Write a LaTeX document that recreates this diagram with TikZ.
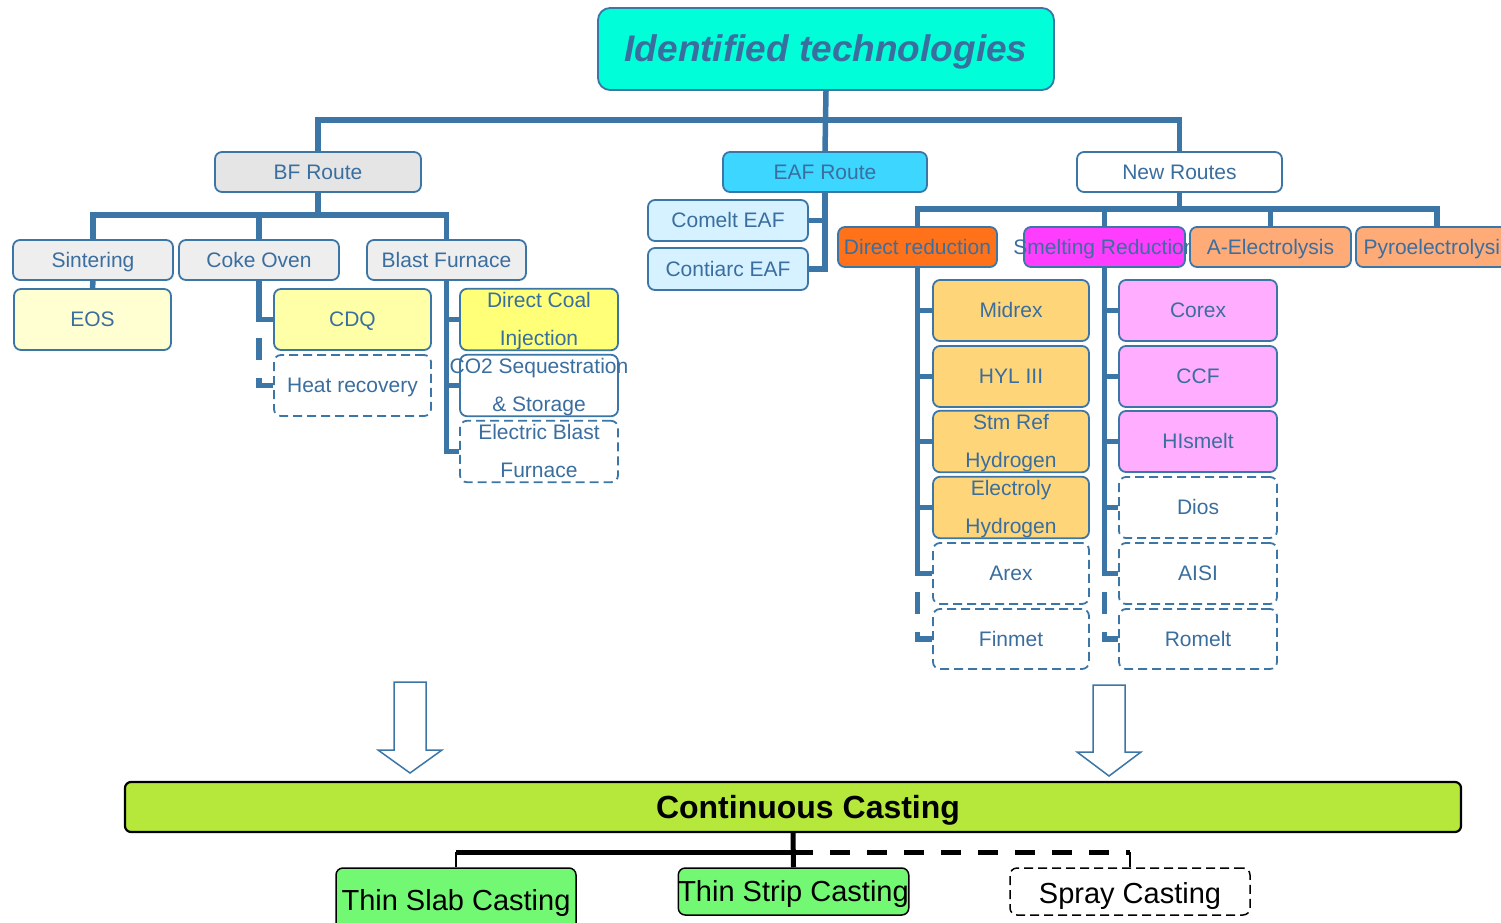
\documentclass[tikz,border=0pt]{standalone}
\usepackage{fontspec}
\setmainfont{Liberation Sans}
\usetikzlibrary{backgrounds}
\definecolor{lc}{HTML}{3B76A7}
\definecolor{tc}{HTML}{3A6E9F}
\definecolor{titlef}{HTML}{00FFD9}
\definecolor{bff}{HTML}{E5E5E5}
\definecolor{greyf}{HTML}{EEEEEE}
\definecolor{eaff}{HTML}{3DD6FF}
\definecolor{lbluef}{HTML}{D6F1FF}
\definecolor{eosf}{HTML}{FFFFD2}
\definecolor{cdqf}{HTML}{FFFFA8}
\definecolor{dcif}{HTML}{FFFF78}
\definecolor{drf}{HTML}{FF7219}
\definecolor{srf}{HTML}{FF3DFF}
\definecolor{aef}{HTML}{FFAB78}
\definecolor{midf}{HTML}{FFD57A}
\definecolor{corf}{HTML}{FFAEFF}
\definecolor{ccf}{HTML}{B5E83A}
\definecolor{grf}{HTML}{72F872}
\newcommand\bx[7]{\node[box,#6,minimum width={(#4-#2)*1pt},minimum height={(#5-#3)*1pt}] (#1) at ({(#2+#4)/2},{(#3+#5)/2}) {#7};}
\newcommand\mystrut{\rule[-0.212em]{0pt}{1.117em}}
\newcommand\zw[1]{\makebox[0pt]{\mystrut#1}}
\tikzset{
  box/.style={draw=lc, line width=1.8pt, rounded corners=7pt, text=tc, inner sep=0pt, align=center, font=\fontsize{21}{38}\selectfont, execute at begin node=\mystrut},
  dbox/.style={dash pattern=on 9pt off 5pt, fill=white},
  conn/.style={draw=lc, line width=5.5pt},
  dconn/.style={conn, dash pattern=on 22pt off 18pt, dash phase=22pt},
  cbox/.style={draw=black, line width=1.5pt, text=black, font=\fontsize{29}{31}\selectfont},
  cthin/.style={draw=black, line width=2.5pt},
  cbus/.style={draw=black, line width=5pt},
  harrow/.style={draw=lc, fill=white, line width=1.5pt, line join=miter}
}
\begin{document}
\begin{tikzpicture}[x=1pt,y=-1pt]
\useasboundingbox (0,0) rectangle (1501,923);
\clip (0,0) rectangle (1501,923);
% top
\bx{title}{598}{8}{1054}{90}{fill=titlef, rounded corners=12pt, font=\fontsize{37}{40}\selectfont\bfseries\itshape}{Identified technologies}
\bx{bfr}{215}{152}{421}{192}{fill=bff}{BF Route}
\bx{eaf}{723}{152}{927}{192}{fill=eaff}{EAF Route}
\bx{nr}{1077}{152}{1282}{192}{fill=white}{New Routes}
% BF route
\bx{sint}{13}{240}{173}{280}{fill=greyf}{Sintering}
\bx{coke}{179}{240}{339}{280}{fill=greyf}{Coke Oven}
\bx{bfur}{367}{240}{526}{280}{fill=greyf}{Blast Furnace}
\bx{eos}{14}{289}{171}{350}{fill=eosf}{EOS}
\bx{cdq}{274}{289}{431}{350}{fill=cdqf}{CDQ}
\bx{heat}{274}{355}{431}{416}{dbox}{Heat recovery}
\bx{dci}{460}{289}{618}{350}{fill=dcif}{\zw{Direct Coal}\\\zw{Injection}}
\bx{co2}{460}{355}{618}{416}{fill=white}{\zw{CO2 Sequestration}\\\zw{\& Storage}}
\bx{ebf}{460}{421}{618}{482}{dbox}{\zw{Electric Blast}\\\zw{Furnace}}
% EAF route
\bx{comelt}{648}{200}{808}{241}{fill=lbluef}{Comelt EAF}
\bx{contiarc}{648}{248}{808}{290}{fill=lbluef}{Contiarc EAF}
% New routes
\bx{dr}{838}{227}{997}{267}{fill=drf}{\zw{Direct reduction}}
\bx{sr}{1024}{227}{1185}{267}{fill=srf}{\zw{Smelting Reduction}}
\bx{ae}{1190}{227}{1351}{267}{fill=aef}{A-Electrolysis}
\bx{pyro}{1356}{227}{1518}{267}{fill=aef}{\zw{Pyroelectrolysis}}
\bx{midrex}{933}{280}{1089}{341}{fill=midf}{Midrex}
\bx{hyl}{933}{346}{1089}{407}{fill=midf}{HYL III}
\bx{stm}{933}{411}{1089}{472}{fill=midf}{\zw{Stm Ref}\\\zw{Hydrogen}}
\bx{elh}{933}{477}{1089}{538}{fill=midf}{\zw{Electroly}\\\zw{Hydrogen}}
\bx{arex}{933}{543}{1089}{604}{dbox}{Arex}
\bx{finmet}{933}{609}{1089}{669}{dbox}{Finmet}
\bx{corex}{1119}{280}{1277}{341}{fill=corf}{Corex}
\bx{ccf}{1119}{346}{1277}{407}{fill=corf}{CCF}
\bx{hismelt}{1119}{411}{1277}{472}{fill=corf}{HIsmelt}
\bx{dios}{1119}{477}{1277}{538}{dbox}{Dios}
\bx{aisi}{1119}{543}{1277}{604}{dbox}{AISI}
\bx{romelt}{1119}{609}{1277}{669}{dbox}{Romelt}
% casting
\bx{cc}{125}{782}{1461}{832}{draw=black, fill=ccf, line width=2.2pt, rounded corners=6pt, text=black, font=\fontsize{32}{34}\selectfont\bfseries}{\hspace*{30pt}Continuous Casting}
\bx{slab}{336}{868}{576}{932}{cbox, fill=grf}{Thin Slab Casting}
\bx{strip}{679}{868}{908}{915}{cbox, fill=grf}{Thin Strip Casting}
\bx{spray}{1010}{868}{1250}{915}{cbox, dbox}{\raisebox{-3pt}{Spray Casting}}
% hollow arrows
\draw[harrow] (394,682) -- (426,682) -- (426,750) -- (442,750) -- (410,773) -- (378,750) -- (394,750) -- cycle;
\draw[harrow] (1093,685) -- (1125,685) -- (1125,752) -- (1141,752) -- (1109,776) -- (1077,752) -- (1093,752) -- cycle;
\begin{scope}[on background layer]
% top bus
\draw[conn] (title.south) -- (eaf.north);
\draw[conn] (bfr.north) -- ++(0,-31) -| (nr.north);
% BF
\draw[conn] (bfr.south) -- ++(0,24);
\draw[conn] (sint.north) -- ++(0,-24) -| (bfur.north);
\draw[conn] (coke.north) -- ++(0,-24);
\draw[conn] (sint.south) -- (eos.north);
\draw[conn] (coke.south) |- (cdq.west);
\draw[dconn] (coke.south |- cdq.west) |- (heat.west);
\draw[conn] (bfur.south) |- (ebf.west);
\draw[conn] (bfur.south |- dci.west) -- (dci.west);
\draw[conn] (bfur.south |- co2.west) -- (co2.west);
% EAF
\draw[conn] (eaf.south) |- (contiarc.east);
\draw[conn] (eaf.south |- comelt.east) -- (comelt.east);
% New routes
\draw[conn] (nr.south) -- ++(0,18);
\draw[conn] (dr.north) -- ++(0,-17) -| (pyro.north);
\draw[conn] (sr.north) -- ++(0,-17);
\draw[conn] (ae.north) -- ++(0,-17);
\draw[conn] (dr.south) |- (arex.west);
\foreach \n in {midrex,hyl,stm,elh} \draw[conn] (dr.south |- \n.west) -- (\n.west);
\draw[dconn] (dr.south |- arex.west) |- (finmet.west);
\draw[conn] (sr.south) |- (aisi.west);
\foreach \n in {corex,ccf,hismelt,dios} \draw[conn] (sr.south |- \n.west) -- (\n.west);
\draw[dconn] (sr.south |- aisi.west) |- (romelt.west);
% casting
\path (cc.south) ++(0,19) coordinate (cb);
\draw[cbus] (cc.south) -- (strip.north);
\draw[cbus] (cb -| slab.north) -- (cb);
\draw[cbus, dash pattern=on 20pt off 17pt] (cb) -- (cb -| spray.north);
\draw[cthin] (cb -| slab.north) -- (slab.north);
\draw[cthin] (cb -| spray.north) -- (spray.north);
\end{scope}
\end{tikzpicture}
\end{document}
